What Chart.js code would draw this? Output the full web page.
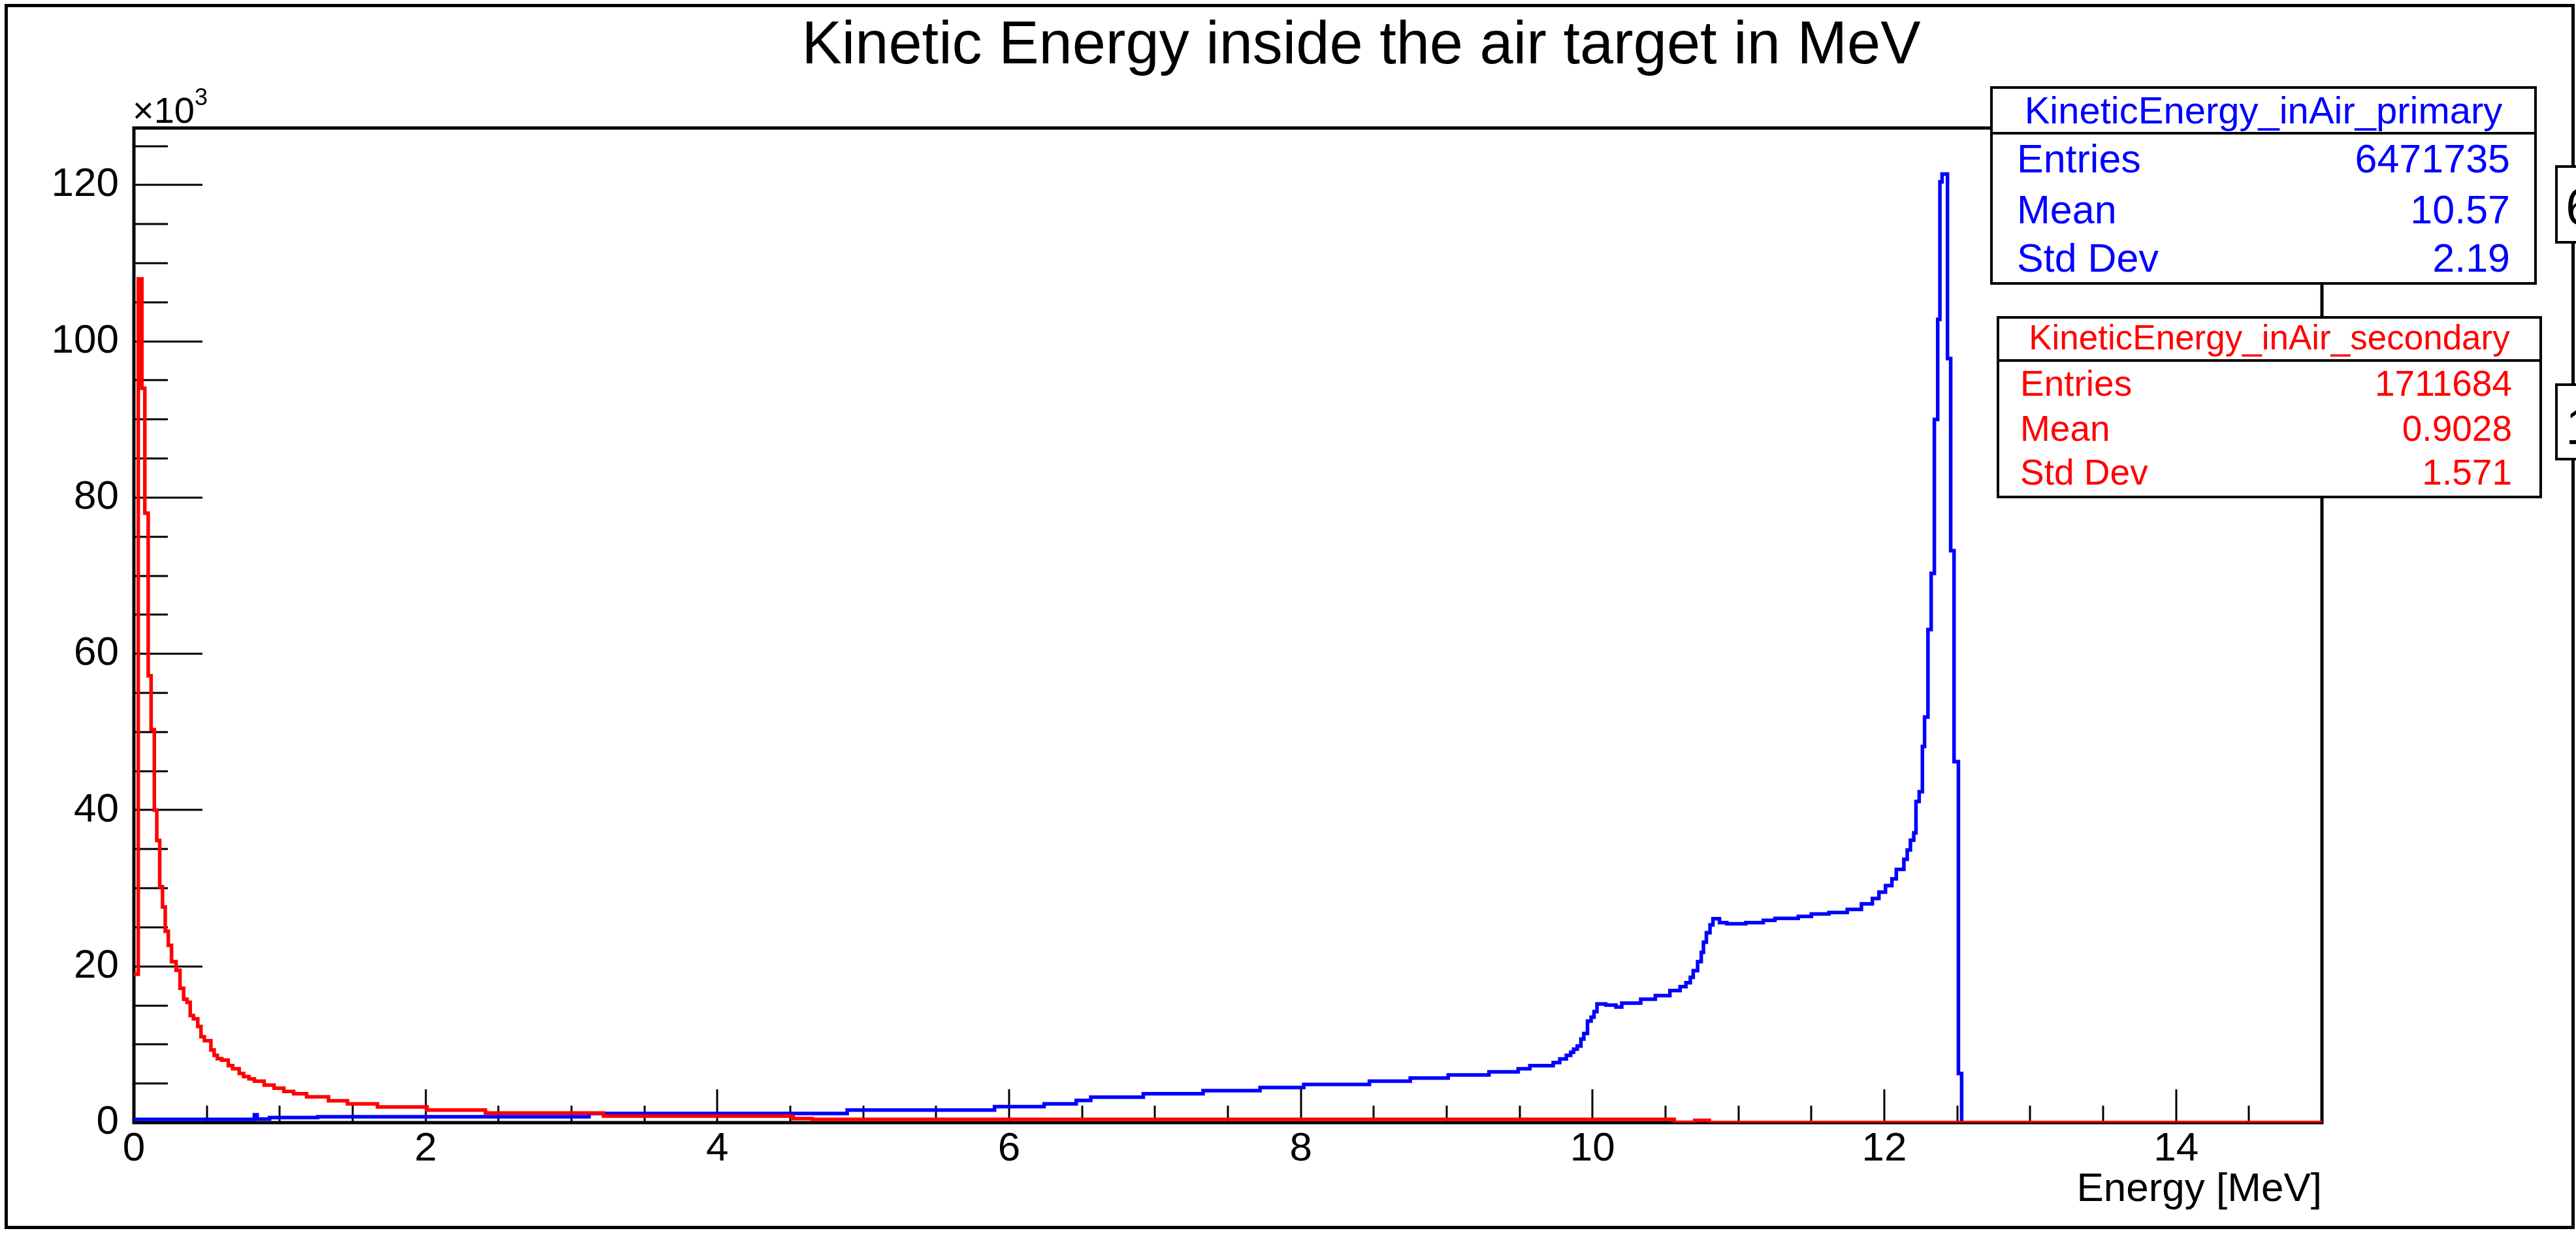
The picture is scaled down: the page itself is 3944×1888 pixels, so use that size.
<!DOCTYPE html>
<html lang="en">
<head>
  <meta charset="UTF-8" />
  <title>Kinetic Energy inside the air target in MeV</title>
  <style>
    html, body {
      margin: 0;
      padding: 0;
      background: #fff;
      width: 3944px;
      height: 1888px;
      overflow: hidden;
      font-family: "Liberation Sans", Arial, Helvetica, sans-serif;
    }
    #wrap { position: relative; width: 3944px; height: 1888px; }
    #plot { position: absolute; left: 0; top: 0; }
    .txt { position: absolute; line-height: 1; white-space: nowrap; color: #000; }
    #canvasBorder {
      position: absolute; left: 7px; top: 6px; width: 3935px; height: 1876px;
      border: 5px solid #000; box-sizing: border-box; pointer-events: none;
    }
    .stats {
      position: absolute; background: #fff; border: 4px solid #000;
      box-sizing: border-box;
    }
    .stats .sep { position: absolute; left: 0; right: 0; border-top: 4px solid #000; }
    .stats .head { position: absolute; left: 0; right: 0; text-align: center; line-height: 1; white-space: nowrap; }
    .stats .lab { position: absolute; line-height: 1; white-space: nowrap; }
    .stats .val { position: absolute; line-height: 1; white-space: nowrap; text-align: right; }
    .cut {
      position: absolute; background: #fff; border: 4px solid #000; box-sizing: border-box;
      overflow: hidden;
    }
  </style>
  <script src="https://cdn.jsdelivr.net/npm/chart.js"></script>
</head>
<body>
<div id="wrap">
  <canvas id="plot" width="3944" height="1888"></canvas>

  <div id="canvasBorder"></div>

  <div class="txt" id="title" style="left:2084px;top:19px;font-size:92px;transform:translateX(-50%);">Kinetic Energy inside the air target in MeV</div>
  <div class="txt" style="left:203px;top:141px;font-size:56px;">&times;10<sup style="font-size:36px;vertical-align:top;position:relative;top:-10px;">3</sup></div>
  <div class="txt" style="right:389px;top:1787px;font-size:62px;">Energy [MeV]</div>

  <!-- stat box: primary -->
  <div class="stats" style="left:3047px;top:132px;width:837px;height:304px;color:#0000ff;">
    <div class="head" style="top:4px;font-size:58px;">KineticEnergy_inAir_primary</div>
    <div class="sep" style="top:66px;"></div>
    <div class="lab" style="left:37px;top:77px;font-size:61px;">Entries</div>
    <div class="val" style="right:37px;top:77px;font-size:61px;">6471735</div>
    <div class="lab" style="left:37px;top:155px;font-size:61px;">Mean</div>
    <div class="val" style="right:37px;top:155px;font-size:61px;">10.57</div>
    <div class="lab" style="left:37px;top:229px;font-size:61px;">Std Dev</div>
    <div class="val" style="right:37px;top:229px;font-size:61px;">2.19</div>
  </div>

  <!-- stat box: secondary -->
  <div class="stats" style="left:3057px;top:484px;width:835px;height:279px;color:#ff0000;">
    <div class="head" style="top:2px;font-size:53px;">KineticEnergy_inAir_secondary</div>
    <div class="sep" style="top:62px;"></div>
    <div class="lab" style="left:32px;top:72px;font-size:55px;">Entries</div>
    <div class="val" style="right:42px;top:72px;font-size:55px;">1711684</div>
    <div class="lab" style="left:32px;top:141px;font-size:55px;">Mean</div>
    <div class="val" style="right:42px;top:141px;font-size:55px;">0.9028</div>
    <div class="lab" style="left:32px;top:208px;font-size:55px;">Std Dev</div>
    <div class="val" style="right:42px;top:208px;font-size:55px;">1.571</div>
  </div>

  <!-- boxes cut off by the right edge of the picture -->
  <div class="cut" style="left:3912px;top:253px;width:120px;height:120px;">
    <div class="txt" style="left:12px;top:20px;font-size:80px;">6</div>
  </div>
  <div class="cut" style="left:3912px;top:587px;width:120px;height:118px;">
    <div class="txt" style="left:12px;top:22px;font-size:80px;">1</div>
  </div>
</div>

<script>
  // counts are in units of 10^3 entries per bin, energies are bin left edges in MeV
  const primaryEdges = [
    0, 0.826, 0.845, 0.93, 1.26, 3.12, 4.89, 5.90, 6.24, 6.46,
    6.56, 6.92, 7.33, 7.72, 8.02, 8.47, 8.75, 9.01, 9.29, 9.49,
    9.57, 9.73, 9.775, 9.82, 9.85, 9.87, 9.895, 9.92, 9.94, 9.965,
    9.99, 10.01, 10.03, 10.09, 10.16, 10.20, 10.33, 10.43, 10.53, 10.60,
    10.64, 10.67, 10.69, 10.72, 10.745, 10.76, 10.78, 10.805, 10.825, 10.87,
    10.92, 11.05, 11.17, 11.25, 11.41, 11.50, 11.62, 11.746, 11.843, 11.918,
    11.963, 12.008, 12.052, 12.082, 12.134, 12.157, 12.179, 12.202, 12.217, 12.239,
    12.261, 12.276, 12.299, 12.321, 12.343, 12.366, 12.381, 12.396, 12.433, 12.455,
    12.478, 12.508, 12.530
  ];
  const primaryCounts = [
    0.42, 1.0, 0.45, 0.65, 0.75, 1.17, 1.6, 2.05, 2.4, 2.85,
    3.27, 3.7, 4.1, 4.5, 4.9, 5.3, 5.7, 6.1, 6.5, 6.9,
    7.3, 7.7, 8.15, 8.6, 9.0, 9.4, 9.8, 10.7, 11.4, 13.0,
    13.5, 14.2, 15.2, 15.05, 14.8, 15.3, 15.8, 16.25, 16.9, 17.4,
    17.9, 18.6, 19.45, 20.6, 21.8, 23.1, 24.3, 25.3, 26.1, 25.6,
    25.45, 25.6, 25.9, 26.15, 26.4, 26.7, 26.9, 27.3, 28.0, 28.7,
    29.5, 30.35, 31.2, 32.4, 33.7, 34.9, 36.15, 37.1, 41.1, 42.35,
    48.15, 51.9, 63.1, 70.3, 90.0, 102.8, 120.4, 121.4, 97.8, 73.2,
    46.2, 6.3, 0
  ];

  const secondaryEdges = [
    0, 0.030, 0.055, 0.075, 0.098, 0.118, 0.140, 0.157, 0.177, 0.196,
    0.215, 0.236, 0.258, 0.289, 0.316, 0.341, 0.364, 0.386, 0.408, 0.438,
    0.460, 0.483, 0.528, 0.550, 0.572, 0.602, 0.647, 0.677, 0.722, 0.752,
    0.789, 0.826, 0.893, 0.961, 1.028, 1.095, 1.184, 1.334, 1.464, 1.670,
    2.010, 2.410, 3.220, 4.520, 4.650, 10.560, 10.700, 10.800
  ];
  const secondaryCounts = [
    19.0, 108.0, 94.0, 78.0, 57.2, 50.3, 40.0, 36.1, 30.2, 27.6,
    24.5, 22.7, 20.6, 19.5, 17.2, 15.8, 15.4, 13.7, 13.3, 12.3,
    11.0, 10.5, 9.3, 8.6, 8.2, 8.0, 7.3, 6.9, 6.3, 5.9,
    5.6, 5.3, 4.8, 4.4, 4.0, 3.7, 3.3, 2.8, 2.4, 2.0,
    1.6, 1.23, 0.84, 0.53, 0.42, 0.05, 0.3, 0.02
  ];

  const X_MIN = 0, X_MAX = 15;
  const Y_MAX = 127.3;

  // histogram outline: each count holds from its edge to the next one, last bin runs to the axis end
  function histPoints(edges, counts) {
    const pts = edges.map((e, i) => ({ x: e, y: counts[i] }));
    pts.push({ x: X_MAX, y: counts[counts.length - 1] });
    return pts;
  }

  // ROOT style frame with ticks drawn inward
  const rootFrame = {
    id: 'rootFrame',
    beforeDatasetsDraw(chart) {
      const { ctx, chartArea: a, scales: { x, y } } = chart;
      ctx.save();
      ctx.strokeStyle = '#000';
      ctx.lineWidth = 3;
      ctx.beginPath();
      for (let v = 0; v <= Y_MAX; v += 5) {
        const py = Math.round(y.getPixelForValue(v));
        const len = v % 20 === 0 ? 105 : 52;
        ctx.moveTo(a.left, py);
        ctx.lineTo(a.left + len, py);
      }
      for (let v = X_MIN; v < X_MAX; v += 0.5) {
        const px = Math.round(x.getPixelForValue(v));
        const len = v % 2 === 0 ? 51 : 26;
        ctx.moveTo(px, a.bottom);
        ctx.lineTo(px, a.bottom - len);
      }
      ctx.stroke();
      ctx.lineWidth = 5;
      ctx.strokeRect(a.left, a.top, a.right - a.left, a.bottom - a.top);
      ctx.restore();
    }
  };

  const tickFont = { family: "'Liberation Sans', Arial, sans-serif", size: 62 };

  new Chart(document.getElementById('plot').getContext('2d'), {
    type: 'line',
    data: {
      datasets: [
        {
          label: 'KineticEnergy_inAir_secondary',
          data: histPoints(secondaryEdges, secondaryCounts),
          borderColor: '#ff0000',
          borderWidth: 5.5,
          stepped: 'before',
          pointRadius: 0,
          fill: false
        },
        {
          label: 'KineticEnergy_inAir_primary',
          data: histPoints(primaryEdges, primaryCounts),
          borderColor: '#0000ff',
          borderWidth: 5.5,
          stepped: 'before',
          pointRadius: 0,
          fill: false
        }
      ]
    },
    options: {
      responsive: false,
      animation: false,
      events: [],
      layout: { padding: { top: 196, right: 389, left: 0, bottom: 0 } },
      plugins: {
        legend: { display: false },
        tooltip: { enabled: false },
        title: { display: false }
      },
      scales: {
        x: {
          type: 'linear',
          min: X_MIN,
          max: X_MAX,
          grid: { display: false, drawTicks: false },
          border: { display: false },
          ticks: {
            stepSize: 2,
            includeBounds: false,
            autoSkip: false,
            maxRotation: 0,
            padding: 4,
            color: '#000',
            font: tickFont
          },
          afterFit(scale) { scale.height = 169; }
        },
        y: {
          type: 'linear',
          min: 0,
          max: Y_MAX,
          grid: { display: false, drawTicks: false },
          border: { display: false },
          ticks: {
            stepSize: 20,
            includeBounds: false,
            autoSkip: false,
            padding: 23,
            color: '#000',
            font: tickFont
          },
          afterFit(scale) { scale.width = 205; }
        }
      }
    },
    plugins: [rootFrame]
  });
</script>
</body>
</html>
